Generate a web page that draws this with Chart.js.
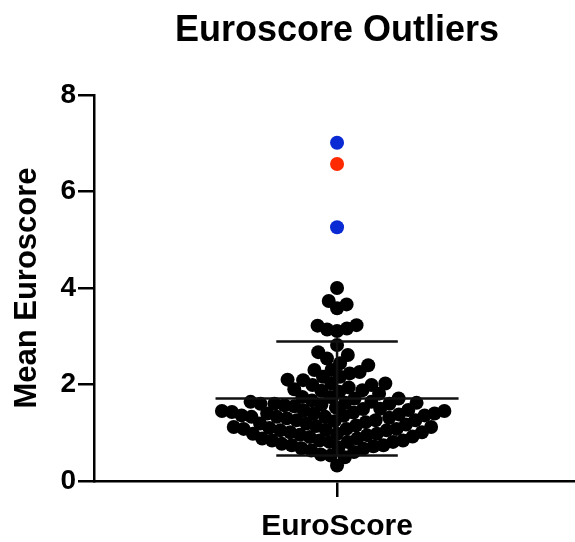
<!DOCTYPE html>
<html>
<head>
<meta charset="utf-8">
<script src="https://cdn.jsdelivr.net/npm/chart.js@4/dist/chart.umd.min.js"></script>
<style>
  html, body { margin: 0; padding: 0; background: #ffffff; }
  #wrap { width: 575px; height: 542px; }
</style>
</head>
<body>
<div id="wrap"><canvas id="chart" width="575" height="542"></canvas></div>
<script>
// Chart text
const chartTitle = 'Euroscore Outliers';
const categoryLabel = 'EuroScore';
const yAxisLabel = 'Mean Euroscore';
const yTickValues = [0, 2, 4, 6, 8];

// Mean EuroSCORE per patient
const scores = [
  4.00, 3.73, 3.66, 3.58, 3.23, 3.22, 3.16, 3.14, 3.11,
  2.82, 2.67, 2.61, 2.54, 2.44, 2.40, 2.30, 2.30, 2.26, 2.23,
  2.16, 2.16, 2.10, 2.09, 2.02, 2.02, 1.99, 1.99, 1.94, 1.90, 1.88, 1.87, 1.85, 1.81, 1.74, 1.74, 1.71, 1.71,
  1.67, 1.64, 1.64, 1.62, 1.62, 1.60, 1.60, 1.60, 1.58, 1.57, 1.55, 1.52, 1.50, 1.49, 1.47, 1.46, 1.45, 1.45,
  1.43, 1.42, 1.40, 1.40, 1.40, 1.38, 1.36, 1.36, 1.35, 1.33, 1.33, 1.33, 1.31, 1.30,
  1.26, 1.26, 1.26, 1.24, 1.22, 1.19, 1.19, 1.17, 1.15, 1.14, 1.12, 1.12,
  1.10, 1.08, 1.08, 1.08, 1.06, 1.05, 1.05, 1.01, 1.01,
  0.98, 0.98, 0.98, 0.96, 0.95, 0.92, 0.91,
  0.88, 0.88, 0.84, 0.84, 0.84, 0.81, 0.81, 0.81, 0.77,
  0.74, 0.74, 0.72, 0.70, 0.68, 0.67,
  0.63, 0.60, 0.55, 0.53, 0.49,
  0.32
];
// Flagged outliers
const blueOutliers = [7.01, 5.26];
const redOutliers = [6.57];

// Summary lines: mean and one standard deviation either side
const meanScore = 1.71;
const sdScore = 1.18;

const FONT = '"Liberation Sans", Arial, Helvetica, sans-serif';
const INK = '#000000';

const lineDs = (pts) => ({
  type: 'line', data: pts, borderColor: '#111111', borderWidth: 2.5,
  pointRadius: 0, fill: false, order: 0, clip: false
});
const dotDs = (vals, color) => ({
  type: 'scatter', data: vals.map(v => ({ x: 0, y: v })),
  backgroundColor: color, borderWidth: 0, pointRadius: 7, pointHoverRadius: 7,
  order: 1, clip: false
});

// Title centred over the category
const plotTitle = {
  id: 'plotTitle',
  afterDraw(chart) {
    const { ctx } = chart;
    ctx.save();
    ctx.font = 'bold 36px ' + FONT;
    ctx.fillStyle = INK;
    ctx.textAlign = 'center';
    ctx.textBaseline = 'middle';
    ctx.fillText(chartTitle, chart.scales.x.getPixelForValue(0), 31);
    ctx.restore();
  }
};

const chart = new Chart(document.getElementById('chart'), {
  type: 'scatter',
  data: {
    datasets: [
      lineDs([{ x: -0.5, y: meanScore }, { x: 0.5, y: meanScore }]),
      lineDs([{ x: -0.25, y: meanScore + sdScore }, { x: 0.25, y: meanScore + sdScore }]),
      lineDs([{ x: -0.25, y: meanScore - sdScore }, { x: 0.25, y: meanScore - sdScore }]),
      lineDs([{ x: 0, y: meanScore - sdScore }, { x: 0, y: meanScore + sdScore }]),
      dotDs(scores, INK),
      dotDs(blueOutliers, '#0a2ad4'),
      dotDs(redOutliers, '#ff2a00')
    ]
  },
  plugins: [plotTitle],
  options: {
    responsive: false,
    animation: false,
    devicePixelRatio: 1,
    layout: { autoPadding: false, padding: { top: 95, right: 0, bottom: 0, left: 0 } },
    plugins: {
      legend: { display: false },
      tooltip: { enabled: false },
      title: { display: false }
    },
    scales: {
      x: {
        type: 'linear', min: -1, max: 0.979,
        afterBuildTicks: s => { s.ticks = [{ value: 0 }]; },
        afterFit: s => { s.height = 61; },
        ticks: {
          callback: () => categoryLabel, color: INK, padding: 15,
          maxRotation: 0, autoSkip: false,
          font: { family: FONT, size: 30, weight: 'bold', lineHeight: 1.0 }
        },
        grid: { drawOnChartArea: false, drawTicks: true, tickLength: 16, color: INK, lineWidth: 2.5 },
        border: { color: INK, width: 2.5 }
      },
      y: {
        type: 'linear', min: 0, max: 8,
        afterBuildTicks: s => { s.ticks = yTickValues.map(v => ({ value: v })); },
        afterFit: s => { s.width = 94; },
        ticks: {
          color: INK, padding: 2,
          font: { family: FONT, size: 28, weight: 'bold' }
        },
        grid: { drawOnChartArea: false, drawTicks: true, tickLength: 16, color: INK, lineWidth: 2.5 },
        border: { color: INK, width: 2.5 },
        title: {
          display: true, text: yAxisLabel, color: INK,
          font: { family: FONT, size: 31, weight: 'bold', lineHeight: 1.2 },
          padding: { top: 9, bottom: 0 }
        }
      }
    }
  }
});

// Spread the dots sideways into a swarm: neighbours keep `gapX` px apart
// side by side, and the clearance fades out over `gapY` px vertically
function layoutSwarm() {
  const xs = chart.scales.x, ys = chart.scales.y;
  const cx = xs.getPixelForValue(0);
  const gapX = 10, gapY = 13;
  const data = chart.data.datasets[4].data;
  const order = data.map((d, i) => i).sort((a, b) => data[a].y - data[b].y);
  const placed = [];
  const clash = (q, c, py) => ((q.dx - c) / gapX) ** 2 + ((q.py - py) / gapY) ** 2 < 1 - 1e-6;
  order.forEach((i, n) => {
    const py = ys.getPixelForValue(data[i].y);
    const near = placed.filter(q => Math.abs(q.py - py) < gapY);
    const cands = [0];
    near.forEach(q => {
      const dx = gapX * Math.sqrt(1 - ((q.py - py) / gapY) ** 2);
      cands.push(q.dx - dx, q.dx + dx);
    });
    const side = n % 2 ? 1 : -1;
    cands.sort((a, b) => (Math.abs(a) - Math.abs(b)) || (side * (b - a)));
    const dx = cands.find(c => !near.some(q => clash(q, c, py)));
    placed.push({ py, dx });
    data[i].x = xs.getValueForPixel(cx + dx);
  });
  chart.update('none');
}
layoutSwarm();
</script>
</body>
</html>
